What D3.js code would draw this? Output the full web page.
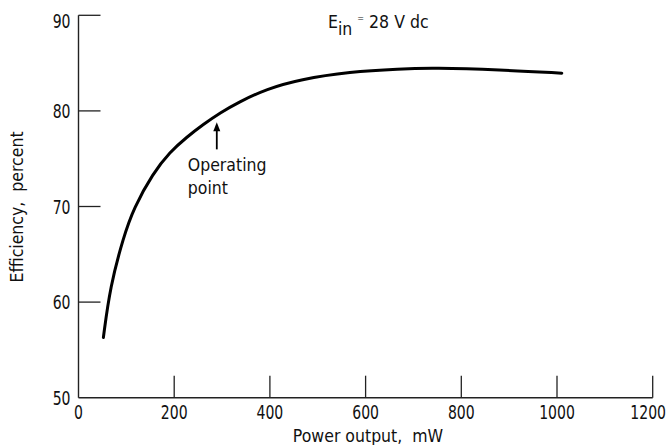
<!DOCTYPE html>
<html><head><meta charset="utf-8">
<script src="https://cdn.jsdelivr.net/npm/d3@7"></script>
<style>
html,body{margin:0;padding:0;background:#fff;}
svg{display:block;}
.tick-label{font-family:"DejaVu Sans Condensed","DejaVu Sans",sans-serif;font-size:20px;fill:#111;}
.txt{font-family:"DejaVu Sans Condensed","DejaVu Sans",sans-serif;font-size:17.5px;fill:#111;}
</style></head>
<body>
<svg id="chart" width="667" height="445"></svg>
<script>
const powerOutput = [52, 66, 94, 115, 156, 191, 226, 261, 296, 334, 393, 463, 567, 672, 741, 881, 1010];
const efficiency  = [56.3, 61.6, 66.8, 69.8, 73.5, 75.7, 77.25, 78.6, 79.8, 80.9, 82.3, 83.3, 84.1, 84.4, 84.5, 84.3, 83.95];
const xTicks = [0, 200, 400, 600, 800, 1000, 1200];
const yTicks = [50, 60, 70, 80, 90];
const operatingPoint = [289, 78.8];
const xTitle = "Power output,\u00a0\u00a0mW";
const yTitle = "Efficiency,\u00a0\u00a0percent";

const W = 667;
const svg = d3.select("#chart");
const x = d3.scaleLinear().domain([0, 1200]).range([78.5, 652.7]);
const y = d3.scaleLinear().domain([50, 90]).range([397.7, 15.3]);
const axisColor = "#222";
const tickLen = 22;
const squeeze = 0.78;

// axes lines
svg.append("line").attr("x1", x(0)).attr("x2", x(0)).attr("y1", y(90)).attr("y2", y(50))
  .attr("stroke", axisColor).attr("stroke-width", 1.4);
svg.append("line").attr("x1", x(0)).attr("x2", x(1200)).attr("y1", y(50)).attr("y2", y(50))
  .attr("stroke", axisColor).attr("stroke-width", 1.4);

// y ticks (inward)
yTicks.forEach(v => {
  if (v !== 50) svg.append("line").attr("x1", x(0)).attr("x2", x(0) + tickLen)
    .attr("y1", y(v)).attr("y2", y(v)).attr("stroke", axisColor).attr("stroke-width", 1.3);
  svg.append("g").attr("transform", `translate(${x(0) - 8},${Math.max(y(v), 21)}) scale(${squeeze},1)`)
    .append("text").attr("class", "tick-label").attr("dy", "0.36em").attr("text-anchor", "end").text(v);
});
// x ticks (inward)
xTicks.forEach(v => {
  if (v !== 0) svg.append("line").attr("x1", x(v)).attr("x2", x(v))
    .attr("y1", y(50)).attr("y2", y(50) - tickLen).attr("stroke", axisColor).attr("stroke-width", 1.3);
  const g = svg.append("g");
  const tx = g.append("text").attr("class", "tick-label").attr("text-anchor", "middle").text(v);
  const half = tx.node().getComputedTextLength() * squeeze / 2;
  const cx = Math.min(x(v), W - 1 - half);
  g.attr("transform", `translate(${cx},${y(50) + 21}) scale(${squeeze},1)`);
});

// curve
const pts = powerOutput.map((p, i) => [p, efficiency[i]]);
svg.append("path").datum(pts)
  .attr("d", d3.line().x(d => x(d[0])).y(d => y(d[1])).curve(d3.curveBasis))
  .attr("fill", "none").attr("stroke", "#000").attr("stroke-width", 3).attr("stroke-linecap", "round");

// arrow for operating point
const ax = x(operatingPoint[0]), ay = y(operatingPoint[1]);
svg.append("line").attr("x1", ax).attr("x2", ax).attr("y1", ay + 6).attr("y2", ay + 27)
  .attr("stroke", "#000").attr("stroke-width", 1.8);
svg.append("path").attr("d", `M${ax},${ay} L${ax - 3.5},${ay + 9} L${ax + 3.5},${ay + 9} Z`).attr("fill", "#000");
svg.append("text").attr("class", "txt").attr("x", ax - 29).attr("y", ay + 49).text("Operating");
svg.append("text").attr("class", "txt").attr("x", ax - 29).attr("y", ay + 72).text("point");

// condition label
const t = svg.append("text").attr("class", "txt").attr("x", 328).attr("y", 28.3);
t.append("tspan").text("E");
t.append("tspan").attr("dy", 7).text("in");
t.append("tspan").attr("dy", -14).attr("dx", 5).attr("font-size", 9).text("=");
t.append("tspan").attr("dy", 7).attr("dx", 5).text("28 V dc");

// axis titles
svg.append("text").attr("class", "txt").attr("x", 368).attr("y", 441.5)
  .attr("text-anchor", "middle").text(xTitle);
svg.append("text").attr("class", "txt").attr("transform", `translate(23,207) rotate(-90)`)
  .attr("text-anchor", "middle").text(yTitle);
</script>
</body></html>
